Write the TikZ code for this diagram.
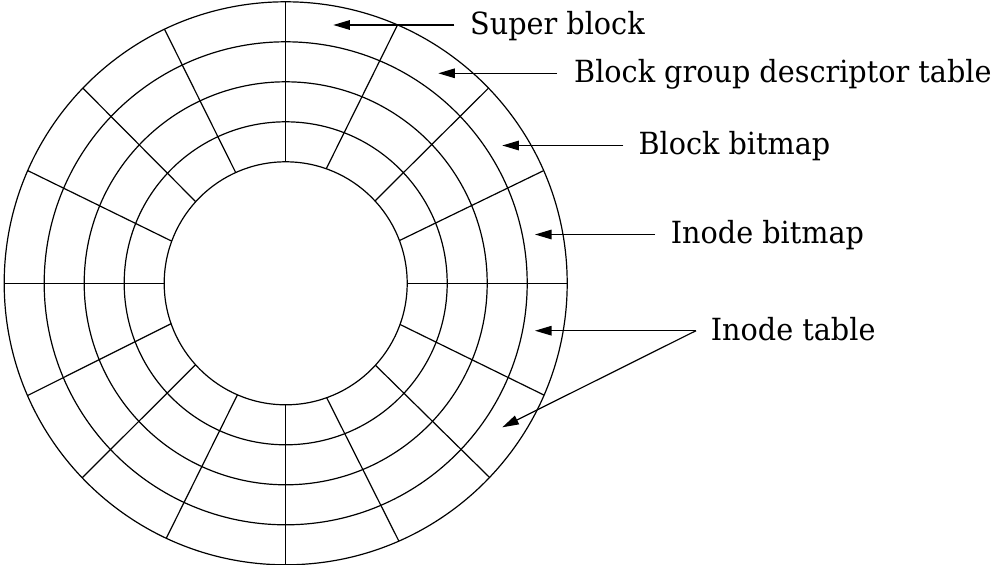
\documentclass[tikz,border=0pt]{standalone}
\usepackage{fontspec}
\setmainfont{DejaVu Serif}[FakeStretch=0.94]
\usetikzlibrary{arrows.meta,calc}
\begin{document}
\begin{tikzpicture}[x=1pt,y=-1pt,
  disk/.style={line width=1.2pt,black},
  arr/.style={line width=1.2pt,-{Triangle[length=16.5pt,width=9.5pt]}},
  lbl/.style={anchor=base west,inner sep=0pt,font=\fontsize{30.5}{36}\selectfont}]
\useasboundingbox (0,0) rectangle (999,565);
\coordinate (C) at (285.7,283.3);
% rings
\foreach \r in {121.5,161.5,201.5,241.5,281.5}
  \draw[disk] (C) circle[radius=\r pt];
% radial lines: inner angle / outer angle
\foreach \a/\b in {90/90,114.3/115.5,137.8/136.1,159.7/156.4,180/180,
                   70.5/66.6,42.7/43.9,20.6/23.6,0/0,
                   199.4/203.5,222.1/223.7,246.6/244.9,270/270,
                   -19.8/-23.4,-42.4/-43.6,-70.3/-66.3}
  \draw[disk] ($(C)+(\a:121.5pt)$) -- ($(C)+(\b:281.5pt)$);
% labels
\node[lbl] (sb)   at (470,34.3)  {Super block};
\node[lbl] (bgdt) at (574,82.6)  {Block group descriptor table};
\node[lbl] (bb)   at (638.3,154.8) {Block bitmap};
\node[lbl] (ib)   at (670.7,243.8) {Inode bitmap};
\node[lbl] (it)   at (710.7,340) {Inode table};
% arrow tips
\coordinate (sbT) at (333.3,25);
\coordinate (bgdtT) at (438.3,73.3);
\coordinate (bbT) at (502.3,145.5);
\coordinate (ibT) at (535,234.5);
\coordinate (itT1) at (535,330.7);
\coordinate (itT2) at (502.3,427.3);
% arrows
\draw[arr] ([xshift=-15.7pt,yshift=9.3pt]sb.base west) -- (sbT);
\draw[arr] ([xshift=-17pt,yshift=9.3pt]bgdt.base west) -- (bgdtT);
\draw[arr] ([xshift=-15pt,yshift=9.3pt]bb.base west) -- (bbT);
\draw[arr] ([xshift=-15.7pt,yshift=9.3pt]ib.base west) -- (ibT);
\coordinate (itS) at ([xshift=-14.7pt,yshift=9.3pt]it.base west);
\draw[arr] (itS) -- (itT1);
\draw[arr] (itS) -- (itT2);
\end{tikzpicture}
\end{document}
